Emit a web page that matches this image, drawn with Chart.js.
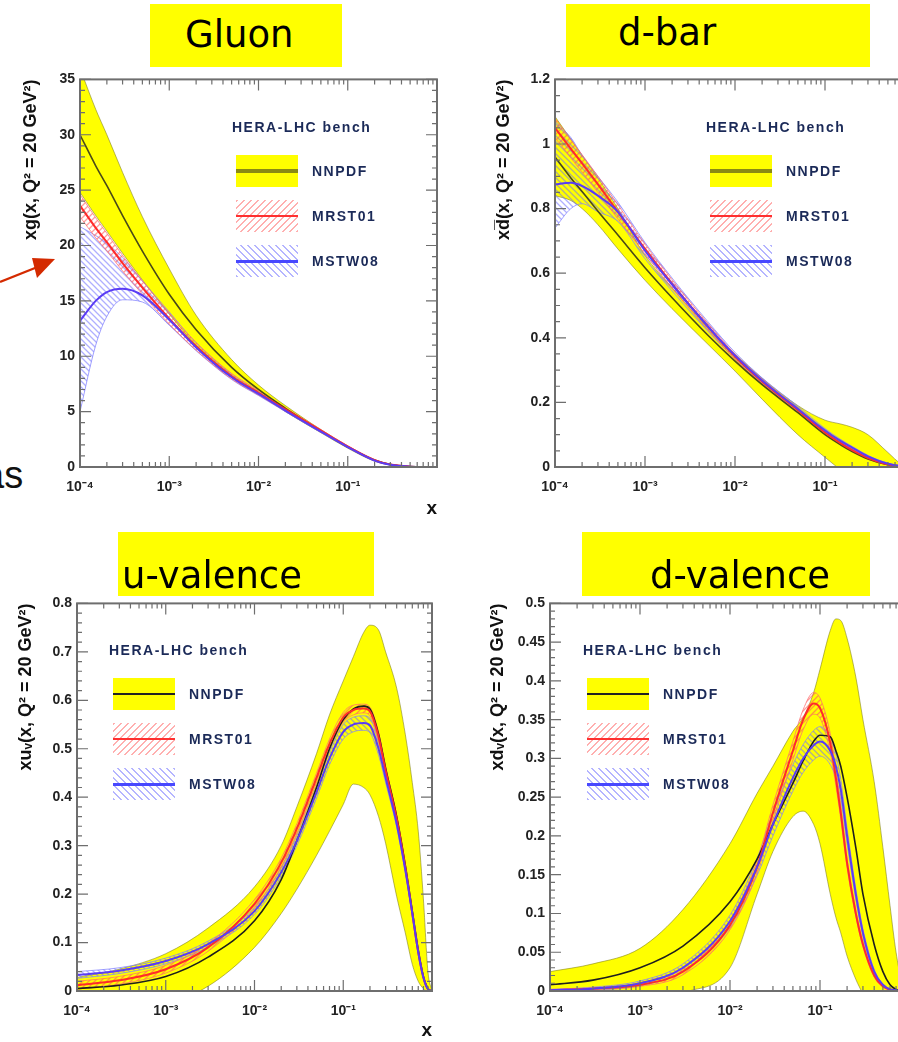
<!DOCTYPE html>
<html>
<head>
<meta charset="utf-8">
<script src="https://cdn.jsdelivr.net/npm/chart.js@4.4.1/dist/chart.umd.min.js"></script>
<style>
html, body { margin: 0; padding: 0; background: #fff; overflow: hidden; width: 898px; height: 1042px; }
canvas { position: absolute; }
.ttl { position: absolute; background: #ffff00; z-index: 2; }
.ttl span { position: absolute; font: 37px 'Comic Sans MS', 'DejaVu Sans', sans-serif; line-height: 37px; color: #000; white-space: nowrap; }
.lg { position: absolute; width: 200px; height: 170px; font: bold 14px 'Liberation Sans', Arial, sans-serif; letter-spacing: 1.5px; color: #1b2a58; z-index: 2; }
.lg .head { position: absolute; left: -4px; top: 0; line-height: 16px; white-space: nowrap; }
.lg .box { position: absolute; left: 0; width: 62px; height: 32px; }
.lg .box i { position: absolute; left: 0; right: 0; top: 50%; }
.lg .name { position: absolute; left: 76px; line-height: 32px; white-space: nowrap; }
.frag { position: absolute; left: -17px; top: 456px; font: 38px 'Liberation Sans', Arial, sans-serif; line-height: 38px; color: #111; }
</style>
</head>
<body>

<div class="ttl" style="left:150px;top:4px;width:192px;height:63px"><span style="left:35px;top:12px">Gluon</span></div>
<div class="ttl" style="left:566px;top:4px;width:304px;height:63px"><span style="left:52px;top:10px">d-bar</span></div>
<div class="ttl" style="left:118px;top:532px;width:256px;height:64px"><span style="left:4px;top:25px">u-valence</span></div>
<div class="ttl" style="left:582px;top:532px;width:288px;height:64px"><span style="left:68px;top:25px">d-valence</span></div>

<div class="frag">as</div>
<svg style="position:absolute;left:0;top:240px" width="60" height="50">
  <line x1="0" y1="42" x2="40" y2="26" stroke="#d42a00" stroke-width="2.2"/>
  <polygon points="55,19 32,18 37,38" fill="#d42a00"/>
</svg>

<canvas id="gluon" width="450" height="454" style="left:0;top:66px"></canvas>
<canvas id="dbar" width="480" height="454" style="left:450px;top:66px"></canvas>
<canvas id="uval" width="450" height="452" style="left:0;top:590px"></canvas>
<canvas id="dval" width="480" height="452" style="left:450px;top:590px"></canvas>

<script>
// ---- data ----
const xTickValues = [1e-4, 1e-3, 1e-2, 1e-1];
const xTickLabels = ['10⁻⁴', '10⁻³', '10⁻²', '10⁻¹'];
const legendNames = ['NNPDF', 'MRST01', 'MSTW08'];

// Gluon
const gluonYTicks = [0, 5, 10, 15, 20, 25, 30, 35];
const gluonX       = [1e-4, 1.5e-4, 2e-4, 3e-4, 5e-4, 1e-3, 2e-3, 5e-3, 1e-2, 2e-2, 5e-2, 0.1, 0.2, 0.3, 0.5, 0.7, 1];
const gluonNNPDF   = [30.0, 27.2, 25.4, 22.7, 19.5, 15.6, 12.4, 9.0, 7.0, 5.3, 3.25, 1.8, 0.6, 0.22, 0.03, 0, 0];
const gluonNNPDFhi = [36.0, 32.3, 30.0, 26.6, 22.6, 17.9, 13.7, 9.7, 7.4, 5.55, 3.38, 1.9, 0.68, 0.26, 0.04, 0, 0];
const gluonNNPDFlo = [24.8, 22.7, 21.3, 19.3, 16.9, 13.8, 11.0, 8.2, 6.6, 5.0, 3.1, 1.7, 0.52, 0.18, 0.02, 0, 0];
const gluonMRST    = [23.6, 21.6, 20.3, 18.4, 16.2, 13.4, 10.9, 8.2, 6.7, 5.2, 3.28, 1.85, 0.62, 0.22, 0.03, 0, 0];
const gluonMRSThi  = [24.6, 22.5, 21.1, 19.1, 16.8, 13.9, 11.25, 8.45, 6.9, 5.35, 3.38, 1.92, 0.66, 0.25, 0.04, 0, 0];
const gluonMRSTlo  = [22.6, 20.7, 19.5, 17.7, 15.6, 12.9, 10.55, 7.95, 6.5, 5.05, 3.18, 1.78, 0.57, 0.19, 0.02, 0, 0];
const gluonMSTW    = [13.2, 15.0, 15.8, 16.1, 15.5, 13.3, 10.8, 8.1, 6.6, 5.1, 3.2, 1.8, 0.58, 0.2, 0.03, 0, 0];
const gluonMSTWhi  = [21.7, 20.9, 20.2, 18.9, 16.8, 14.0, 11.2, 8.35, 6.8, 5.25, 3.3, 1.87, 0.63, 0.23, 0.04, 0, 0];
const gluonMSTWlo  = [5.0, 11.0, 13.6, 15.1, 14.9, 12.8, 10.5, 7.9, 6.45, 5.0, 3.12, 1.75, 0.54, 0.17, 0.02, 0, 0];

// d-bar
const dbarYTicks  = [0, 0.2, 0.4, 0.6, 0.8, 1, 1.2];
const dbarX       = [1e-4, 1.5e-4, 2e-4, 3e-4, 5e-4, 1e-3, 2e-3, 5e-3, 1e-2, 2e-2, 5e-2, 0.1, 0.15, 0.2, 0.3, 0.5, 0.7, 1];
const dbarNNPDF   = [0.96, 0.895, 0.853, 0.792, 0.718, 0.617, 0.524, 0.408, 0.328, 0.255, 0.168, 0.1, 0.068, 0.048, 0.025, 0.007, 0.002, 0];
const dbarNNPDFhi = [1.085, 1.015, 0.965, 0.895, 0.8, 0.655, 0.555, 0.43, 0.35, 0.275, 0.19, 0.145, 0.133, 0.123, 0.1, 0.045, 0.01, 0];
const dbarNNPDFlo = [0.84, 0.825, 0.8, 0.75, 0.675, 0.578, 0.49, 0.38, 0.297, 0.21, 0.1, 0.03, -0.01, -0.04, -0.08, -0.1, -0.1, -0.1];
const dbarMRST    = [1.05, 0.985, 0.94, 0.875, 0.79, 0.675, 0.567, 0.435, 0.342, 0.265, 0.176, 0.107, 0.073, 0.052, 0.028, 0.008, 0.002, 0];
const dbarMRSThi  = [1.08, 1.013, 0.967, 0.9, 0.812, 0.69, 0.58, 0.445, 0.35, 0.272, 0.182, 0.112, 0.077, 0.055, 0.03, 0.009, 0.003, 0];
const dbarMRSTlo  = [1.02, 0.957, 0.913, 0.85, 0.768, 0.66, 0.554, 0.425, 0.334, 0.258, 0.17, 0.102, 0.069, 0.049, 0.026, 0.007, 0.001, 0];
const dbarMSTW    = [0.875, 0.88, 0.87, 0.84, 0.79, 0.67, 0.565, 0.435, 0.345, 0.268, 0.18, 0.113, 0.08, 0.06, 0.033, 0.01, 0.003, 0];
const dbarMSTWhi  = [1.07, 1.02, 0.965, 0.9, 0.82, 0.695, 0.585, 0.45, 0.355, 0.276, 0.188, 0.119, 0.085, 0.064, 0.036, 0.012, 0.004, 0];
const dbarMSTWlo  = [0.74, 0.8, 0.815, 0.79, 0.76, 0.645, 0.545, 0.42, 0.335, 0.26, 0.172, 0.107, 0.075, 0.056, 0.03, 0.008, 0.002, 0];

// u-valence
const uvYTicks  = [0, 0.1, 0.2, 0.3, 0.4, 0.5, 0.6, 0.7, 0.8];
const uvX       = [1e-4, 3e-4, 1e-3, 3e-3, 1e-2, 2e-2, 3e-2, 5e-2, 0.07, 0.1, 0.13, 0.17, 0.2, 0.25, 0.3, 0.4, 0.5, 0.6, 0.7, 0.8, 0.9, 1];
const uvNNPDF   = [0.005, 0.012, 0.03, 0.07, 0.145, 0.23, 0.31, 0.42, 0.5, 0.56, 0.582, 0.588, 0.582, 0.53, 0.46, 0.36, 0.26, 0.165, 0.085, 0.03, 0.005, 0];
const uvNNPDFhi = [0.028, 0.045, 0.077, 0.13, 0.215, 0.3, 0.38, 0.49, 0.57, 0.64, 0.69, 0.74, 0.755, 0.745, 0.7, 0.625, 0.53, 0.43, 0.33, 0.19, 0.04, 0];
const uvNNPDFlo = [-0.03, -0.03, -0.025, 0.01, 0.09, 0.16, 0.21, 0.28, 0.33, 0.385, 0.427, 0.42, 0.405, 0.36, 0.305, 0.195, 0.12, 0.055, 0.02, 0.005, 0, 0];
const uvMRST    = [0.012, 0.022, 0.045, 0.09, 0.18, 0.265, 0.335, 0.44, 0.51, 0.565, 0.58, 0.583, 0.577, 0.525, 0.455, 0.355, 0.255, 0.16, 0.08, 0.028, 0.004, 0];
const uvMRSThi  = [0.02, 0.03, 0.053, 0.098, 0.189, 0.274, 0.345, 0.45, 0.52, 0.575, 0.59, 0.592, 0.586, 0.534, 0.463, 0.362, 0.26, 0.164, 0.083, 0.03, 0.005, 0];
const uvMRSTlo  = [0.004, 0.014, 0.037, 0.082, 0.171, 0.256, 0.325, 0.43, 0.5, 0.555, 0.57, 0.574, 0.568, 0.516, 0.447, 0.348, 0.25, 0.156, 0.077, 0.026, 0.003, 0];
const uvMSTW    = [0.033, 0.042, 0.062, 0.097, 0.165, 0.245, 0.31, 0.41, 0.48, 0.535, 0.55, 0.553, 0.548, 0.5, 0.44, 0.345, 0.25, 0.16, 0.08, 0.028, 0.004, 0];
const uvMSTWhi  = [0.04, 0.048, 0.068, 0.103, 0.172, 0.254, 0.32, 0.422, 0.493, 0.55, 0.565, 0.568, 0.563, 0.513, 0.45, 0.352, 0.255, 0.163, 0.082, 0.029, 0.005, 0];
const uvMSTWlo  = [0.026, 0.036, 0.056, 0.091, 0.158, 0.236, 0.3, 0.398, 0.467, 0.52, 0.535, 0.538, 0.533, 0.487, 0.43, 0.338, 0.245, 0.157, 0.078, 0.027, 0.003, 0];

// d-valence
const dvYTicks  = [0, 0.05, 0.1, 0.15, 0.2, 0.25, 0.3, 0.35, 0.4, 0.45, 0.5];
const dvX       = [1e-4, 3e-4, 1e-3, 3e-3, 1e-2, 2e-2, 3e-2, 5e-2, 0.065, 0.085, 0.1, 0.13, 0.15, 0.17, 0.2, 0.25, 0.3, 0.4, 0.5, 0.6, 0.7, 0.8, 1];
const dvNNPDF   = [0.008, 0.014, 0.03, 0.058, 0.115, 0.17, 0.215, 0.268, 0.297, 0.322, 0.33, 0.328, 0.31, 0.29, 0.25, 0.185, 0.125, 0.06, 0.025, 0.008, 0.002, 0, 0];
const dvNNPDFhi = [0.025, 0.035, 0.055, 0.105, 0.19, 0.255, 0.29, 0.335, 0.353, 0.385, 0.415, 0.465, 0.48, 0.478, 0.455, 0.405, 0.35, 0.27, 0.185, 0.11, 0.05, 0.015, 0];
const dvNNPDFlo = [-0.05, -0.04, -0.03, -0.003, 0.03, 0.125, 0.18, 0.225, 0.232, 0.215, 0.19, 0.125, 0.095, 0.075, 0.045, 0.015, -0.005, -0.05, -0.05, -0.05, -0.05, -0.05, -0.05];
const dvMRST    = [0.001, 0.003, 0.008, 0.025, 0.085, 0.16, 0.23, 0.31, 0.35, 0.371, 0.365, 0.32, 0.275, 0.23, 0.165, 0.1, 0.06, 0.02, 0.006, 0.002, 0, 0, 0];
const dvMRSThi  = [0.002, 0.004, 0.01, 0.029, 0.091, 0.168, 0.24, 0.322, 0.363, 0.385, 0.378, 0.332, 0.285, 0.238, 0.171, 0.104, 0.063, 0.022, 0.007, 0.002, 0, 0, 0];
const dvMRSTlo  = [0, 0.002, 0.006, 0.021, 0.079, 0.152, 0.22, 0.298, 0.337, 0.357, 0.352, 0.308, 0.265, 0.222, 0.159, 0.096, 0.057, 0.018, 0.005, 0.001, 0, 0, 0];
const dvMSTW    = [0.001, 0.003, 0.01, 0.03, 0.09, 0.16, 0.215, 0.275, 0.3, 0.317, 0.322, 0.31, 0.29, 0.26, 0.2, 0.125, 0.075, 0.025, 0.008, 0.002, 0.001, 0, 0];
const dvMSTWhi  = [0.002, 0.005, 0.013, 0.035, 0.098, 0.171, 0.23, 0.292, 0.318, 0.336, 0.341, 0.328, 0.306, 0.273, 0.21, 0.132, 0.08, 0.028, 0.009, 0.003, 0.001, 0, 0];
const dvMSTWlo  = [0, 0.001, 0.007, 0.025, 0.082, 0.149, 0.2, 0.258, 0.282, 0.298, 0.303, 0.292, 0.274, 0.247, 0.19, 0.118, 0.07, 0.022, 0.007, 0.001, 0, 0, 0];

// ---- drawing ----
const FONT = "'Liberation Sans', Arial, sans-serif";

function pts(xs, ys) {
    return xs.map((x, i) => ({ x, y: ys[i] }));
}

// diagonal hatch tile, used as fill for the MRST / MSTW bands
function hatch(color, rising) {
    const c = document.createElement('canvas');
    c.width = c.height = 6;
    const g = c.getContext('2d');
    g.strokeStyle = color;
    g.lineWidth = 1.3;
    g.beginPath();
    if (rising) {
        g.moveTo(-1, 7); g.lineTo(7, -1);
        g.moveTo(-1, 1); g.lineTo(1, -1);
        g.moveTo(5, 7); g.lineTo(7, 5);
    } else {
        g.moveTo(-1, -1); g.lineTo(7, 7);
        g.moveTo(-1, 5); g.lineTo(1, 7);
        g.moveTo(5, -1); g.lineTo(7, 1);
    }
    g.stroke();
    return g.createPattern(c, 'repeat');
}
const mrstHatch = hatch('rgba(255,90,90,0.6)', true);
const mstwHatch = hatch('rgba(110,110,255,0.55)', false);

// ROOT-like frame with inside ticks on all four sides
const frameTicks = {
    id: 'frameTicks',
    afterDatasetsDraw(chart, args, opts) {
        const { ctx, chartArea: a, scales: { x, y } } = chart;
        ctx.save();
        ctx.strokeStyle = '#6e6e6e';
        ctx.lineWidth = 1.2;
        ctx.beginPath();
        for (let e = -4; e < 0; e++) {
            for (let m = 1; m < 10; m++) {
                const px = x.getPixelForValue(m * Math.pow(10, e));
                const len = m === 1 ? 11 : 5;
                ctx.moveTo(px, a.bottom); ctx.lineTo(px, a.bottom - len);
                ctx.moveTo(px, a.top); ctx.lineTo(px, a.top + len);
            }
        }
        const n = Math.round(y.max / opts.minor);
        for (let i = 0; i <= n; i++) {
            const py = y.getPixelForValue(i * opts.minor);
            const len = i % opts.per === 0 ? 11 : 5;
            ctx.moveTo(a.left, py); ctx.lineTo(a.left + len, py);
            ctx.moveTo(a.right, py); ctx.lineTo(a.right - len, py);
        }
        ctx.stroke();
        ctx.lineWidth = 2;
        ctx.strokeRect(a.left, a.top, a.right - a.left, a.bottom - a.top);
        ctx.restore();
    }
};

function datasets(xs, s, nnColor) {
    const band = (hi, lo, fill, edge, order) => [
        { data: pts(xs, hi), borderColor: edge, borderWidth: 1, fill: false, order },
        { data: pts(xs, lo), borderColor: edge, borderWidth: 1, fill: '-1', backgroundColor: fill, order },
    ];
    return [
        ...band(s.nnHi, s.nnLo, '#ffff00', 'rgba(120,120,30,0.55)', 30),
        ...band(s.mwHi, s.mwLo, mstwHatch, 'rgba(130,130,255,0.75)', 20),
        ...band(s.mrHi, s.mrLo, mrstHatch, 'rgba(255,110,110,0.75)', 19),
        { data: pts(xs, s.nn), borderColor: nnColor, borderWidth: 1.6, order: 6 },
        { data: pts(xs, s.mr), borderColor: '#ff2b2b', borderWidth: 2, order: 5 },
        { data: pts(xs, s.mw), borderColor: '#5a3cf5', borderWidth: 2, order: 4 },
    ];
}

function makeChart(id, xs, s, cfg) {
    new Chart(document.getElementById(id), {
        type: 'line',
        data: { datasets: datasets(xs, s, cfg.nnColor) },
        plugins: [frameTicks],
        options: {
            responsive: false,
            animation: false,
            events: [],
            layout: { padding: cfg.pad },
            elements: {
                point: { radius: 0 },
                line: { cubicInterpolationMode: 'monotone', capBezierPoints: false }
            },
            plugins: {
                legend: { display: false },
                tooltip: { enabled: false },
                frameTicks: { minor: cfg.minor, per: cfg.per }
            },
            scales: {
                x: {
                    type: 'logarithmic', min: 1e-4, max: 1,
                    afterBuildTicks: sc => { sc.ticks = xTickValues.map(value => ({ value })); },
                    afterFit: sc => { sc.height = cfg.xHeight; },
                    grid: { display: false, drawTicks: false },
                    border: { display: false },
                    ticks: {
                        autoSkip: false, maxRotation: 0, padding: 12, color: '#222',
                        font: { family: FONT, size: 14, weight: 'bold' },
                        callback: v => xTickLabels[xTickValues.indexOf(v)]
                    },
                    title: {
                        display: true, text: 'x', align: 'end', color: '#111', padding: 0,
                        font: { family: FONT, size: 19, weight: 'bold' }
                    }
                },
                y: {
                    min: 0, max: cfg.yTicks[cfg.yTicks.length - 1],
                    afterBuildTicks: sc => { sc.ticks = cfg.yTicks.map(value => ({ value })); },
                    afterFit: sc => { sc.width = cfg.yWidth; },
                    grid: { display: false, drawTicks: false },
                    border: { display: false },
                    ticks: {
                        autoSkip: false, padding: 5, color: '#222',
                        font: { family: FONT, size: 14, weight: 'bold' },
                        callback: v => String(+v.toFixed(3))
                    },
                    title: {
                        display: true, text: cfg.yTitle, align: 'end', color: '#111', padding: 0,
                        font: { family: FONT, size: 18, weight: 'bold' }
                    }
                }
            }
        }
    });
}

makeChart('gluon', gluonX, {
    nn: gluonNNPDF, nnHi: gluonNNPDFhi, nnLo: gluonNNPDFlo,
    mr: gluonMRST, mrHi: gluonMRSThi, mrLo: gluonMRSTlo,
    mw: gluonMSTW, mwHi: gluonMSTWhi, mwLo: gluonMSTWlo
}, {
    yTicks: gluonYTicks, minor: 1, per: 5, yTitle: 'xg(x, Q² = 20 GeV²)', nnColor: '#4a4a18',
    pad: { left: 20, top: 10, right: 13, bottom: 0 }, yWidth: 60, xHeight: 53
});

makeChart('dbar', dbarX, {
    nn: dbarNNPDF, nnHi: dbarNNPDFhi, nnLo: dbarNNPDFlo,
    mr: dbarMRST, mrHi: dbarMRSThi, mrLo: dbarMRSTlo,
    mw: dbarMSTW, mwHi: dbarMSTWhi, mwLo: dbarMSTWlo
}, {
    yTicks: dbarYTicks, minor: 0.05, per: 4, yTitle: 'xd\u0305(x, Q² = 20 GeV²)', nnColor: '#4a4a18',
    pad: { left: 43, top: 10, right: 15, bottom: 0 }, yWidth: 62, xHeight: 53
});

makeChart('uval', uvX, {
    nn: uvNNPDF, nnHi: uvNNPDFhi, nnLo: uvNNPDFlo,
    mr: uvMRST, mrHi: uvMRSThi, mrLo: uvMRSTlo,
    mw: uvMSTW, mwHi: uvMSTWhi, mwLo: uvMSTWlo
}, {
    yTicks: uvYTicks, minor: 0.02, per: 5, yTitle: 'xuᵥ(x, Q² = 20 GeV²)', nnColor: '#1e1e1e',
    pad: { left: 15, top: 10, right: 18, bottom: 0 }, yWidth: 62, xHeight: 51
});

makeChart('dval', dvX, {
    nn: dvNNPDF, nnHi: dvNNPDFhi, nnLo: dvNNPDFlo,
    mr: dvMRST, mrHi: dvMRSThi, mrLo: dvMRSTlo,
    mw: dvMSTW, mwHi: dvMSTWhi, mwLo: dvMSTWlo
}, {
    yTicks: dvYTicks, minor: 0.01, per: 5, yTitle: 'xdᵥ(x, Q² = 20 GeV²)', nnColor: '#1e1e1e',
    pad: { left: 37, top: 11, right: 20, bottom: 0 }, yWidth: 63, xHeight: 51
});

// legends (HERA-LHC bench boxes)
function legend(left, top, nnLine) {
    const el = document.createElement('div');
    el.className = 'lg';
    el.style.left = left + 'px';
    el.style.top = top + 'px';
    const boxes = [
        { bg: '#ffff00', line: nnLine },
        { bg: 'repeating-linear-gradient(135deg, rgba(255,110,110,0.55) 0 1.5px, transparent 1.5px 5px)', line: 'height:2px;margin-top:-1px;background:#ff3030' },
        { bg: 'repeating-linear-gradient(45deg, rgba(120,120,255,0.55) 0 1.5px, transparent 1.5px 5px)', line: 'height:2.5px;margin-top:-1px;background:#4848ff' },
    ];
    let html = '<div class="head">HERA-LHC bench</div>';
    boxes.forEach((b, i) => {
        const t = 36 + i * 45;
        html += `<div class="box" style="top:${t}px;background:${b.bg}"><i style="${b.line}"></i></div>` +
                `<div class="name" style="top:${t}px">${legendNames[i]}</div>`;
    });
    el.innerHTML = html;
    document.body.appendChild(el);
}
const thickNN = 'height:4px;margin-top:-2px;background:#8a8a14';
const thinNN = 'height:1.5px;margin-top:-1px;background:#222';
legend(236, 119, thickNN);
legend(710, 119, thickNN);
legend(113, 642, thinNN);
legend(587, 642, thinNN);
</script>
</body>
</html>
